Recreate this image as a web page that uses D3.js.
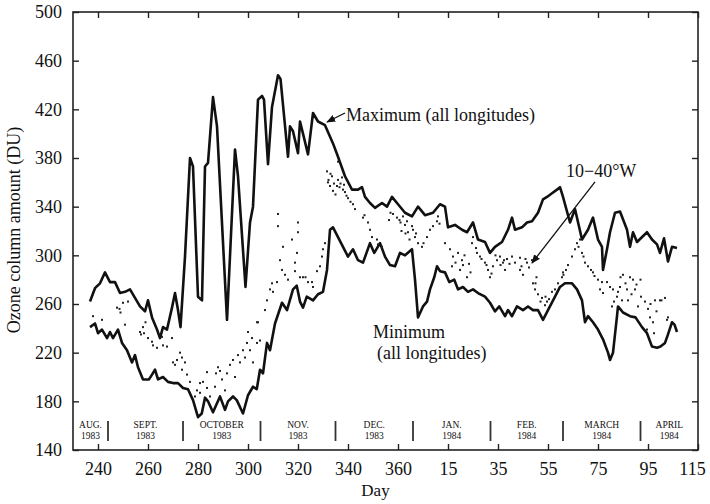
<!DOCTYPE html>
<html>
<head>
<meta charset="utf-8">
<script src="https://cdn.jsdelivr.net/npm/d3@7"></script>
<style>
  body { margin: 0; background: #fff; }
  text { font-family: "Liberation Serif", "DejaVu Serif", serif; fill: #111; }
</style>
</head>
<body>
<div id="chart"></div>
<script>
// days run on from 1983: day 366 = 1 Jan 1984
var maxLine = [[236.8,262],[238.8,273],[240.8,277],[242.8,286],[244.8,278],[246.8,278],[248.8,269],[250.8,270],[252.8,272],[254.8,265],[256.8,258],[258.8,254],[260,263],[261.6,249],[263.6,239],[264.8,232],[266,241],[267.6,239],[269.6,257],[270.8,269],[272,255],[273,241],[274.8,299],[276.8,380],[278,373],[280,266],[281.6,263],[282.8,373],[284,376],[286,430],[287.6,406],[291.6,247],[294.8,387],[296,365],[299,274],[300.8,327],[302,340],[304,428],[305.6,431],[306.4,428],[308,375],[309.6,422],[312,448],[313,445],[316,381],[316.8,406],[318,402],[320,384],[320.8,410],[322,400],[324,383],[326,417],[328,410],[330.8,407],[334,392],[336,381],[338.8,365],[341.6,354],[344,354],[345.6,356],[346.8,348],[348.8,343],[350.8,339],[353.6,343],[355.6,340],[357.6,348],[360,342],[362.8,335],[365.6,332],[368,340],[370.8,333],[374,335],[376.8,342],[378.8,340],[380,323],[382.8,325],[385.6,321],[387.6,319],[390,327],[392,313],[394.8,311],[396.8,302],[398.8,307],[401.6,311],[404,321],[405.6,331],[406.8,321],[409.6,323],[411.6,327],[413.6,328],[416,335],[418,346],[419.6,348],[421.6,351],[423.6,354],[424.8,356],[426,348],[428.8,327],[430.8,338],[433.6,313],[436,321],[438,331],[440,313],[441.6,307],[442,288],[443.6,305],[444.8,319],[446.8,335],[448.8,336],[451.6,321],[452.8,307],[454,319],[455.6,311],[459.6,319],[461.6,313],[463.6,309],[464.8,302],[466.4,314],[468,295],[469.6,307],[471.6,306]];

var minLine = [[236.8,241],[238.8,244],[240,236],[241.6,239],[243.6,232],[244.8,237],[246,232],[248,239],[249.6,228],[251.6,222],[253.6,212],[254.8,218],[256,208],[258,198],[260.4,198],[261.6,202],[262.8,206],[264,198],[266,200],[268,196],[270,195],[272,195],[274,191],[276,190],[278,181],[280,167],[281.5,170],[282.8,183],[284,180],[286,171],[288.8,184],[290.8,173],[292,180],[294,184],[295.5,181],[298,170],[300,185],[302,192],[303.5,190],[304.8,206],[306,203],[307.6,228],[308.8,222],[310.8,244],[313.6,261],[315.6,255],[318,272],[319.5,275],[320.8,262],[322,257],[323.5,266],[326,263],[328,268],[330,270],[331.6,288],[332.8,321],[334,323],[336,315],[338,307],[340,299],[342,305],[344,296],[346,294],[347.4,302],[348.8,310],[350.5,302],[352.8,310],[354.8,299],[356.8,292],[358.8,291],[360.8,302],[362.8,300],[365.6,305],[366.8,280],[368,249],[370,258],[371.6,262],[372.8,272],[374.5,282],[375.6,291],[376.8,287],[378.8,286],[380.5,278],[382.5,280],[384,272],[386,274],[388,270],[390,272],[392,269],[394.8,266],[396.8,261],[398.8,254],[400.5,258],[402.8,250],[404,255],[405.6,250],[407.6,258],[410,255],[412,258],[414,255],[416,255],[418,247],[420,255],[422.8,266],[424.8,274],[426.8,277],[429.6,277],[431.6,272],[433.6,263],[434.8,245],[436,250],[438,245],[440,239],[442,231],[444,220],[444.8,214],[446,220],[447.6,250],[448,258],[450,253],[452.8,250],[455,249],[457.6,241],[459.6,236],[461.6,225],[463.6,224],[465,225],[466.8,228],[468,235],[469.6,245],[470.6,243],[471.6,237]];

var westDots = [[238,250],[241.6,247],[247.6,257],[248.6,256],[249,253],[250,261],[252,262],[250.8,243],[256.8,237],[257.2,235],[258,241],[258.4,236],[259,245],[260,232],[261.6,229],[262,226],[263.6,224],[265.6,233],[266,226],[267.6,225],[269.6,232],[270,212],[270.8,210],[271.6,214],[272.8,220],[273.6,216],[273.6,206],[274.8,212],[275.6,202],[276.8,196],[278.8,184],[279.6,189],[280.8,195],[282,196],[280.8,187],[283.6,204],[283.6,191],[284.8,184],[286.8,192],[288,208],[288.8,205],[287.2,203],[289.6,198],[290.8,189],[291.6,203],[292.8,210],[294,214],[294.8,200],[296,218],[296.8,212],[298,222],[298.8,216],[299.6,228],[300,237],[300.8,222],[301.6,232],[302,212],[303.6,245],[303.6,228],[304.8,230],[304,245],[306.8,255],[307.6,263],[308.8,272],[309.6,277],[310,270],[311.6,278],[312,334],[312,324],[312.8,296],[313.6,288],[314,307],[314.8,284],[316,280],[317.6,313],[318.8,287],[318.8,294],[320,327],[320,319],[319.6,302],[320.8,282],[322,282],[323,282],[324,278],[325.6,278],[326,274],[327.6,287],[328.8,291],[329.6,299],[330,305],[330.8,310],[331.6,369],[332.2,362],[332.8,357],[333.6,365],[334,353],[335.6,357],[336,362],[337.6,364],[338,354],[338.8,352],[336,377],[342,342],[342.8,338],[346,331],[346.6,333],[348,327],[348.8,321],[349.6,315],[351.6,313],[352,309],[353.6,307],[358,334],[359.6,331],[360.6,329],[362,332],[362.8,325],[363.6,328],[364,319],[365.6,324],[366.8,315],[368,310],[369.6,307],[370.2,310],[371.6,315],[372.8,321],[374,324],[375.6,328],[376,332],[376.6,326],[378.8,310],[380.8,305],[382,299],[381.6,291],[383,294],[384,302],[384.8,288],[386,292],[387.6,282],[389.6,310],[390,315],[391.2,306],[392.8,299],[393.4,297],[394.8,294],[396,288],[396.8,282],[398,291],[399.6,296],[400.8,299],[402,294],[402.4,296],[402.8,288],[405.6,299],[406.8,294],[408.8,298],[408.8,288],[410,284],[411.6,294],[413.6,296],[414,277],[414.8,272],[415.4,282],[417.6,265],[418.8,259],[419.6,262],[421.6,270],[422.8,272],[424,277],[425.6,282],[426.2,284],[426,286],[427.2,288],[428,292],[429.6,299],[430.8,305],[431.6,310],[432.2,307],[432.8,313],[433.6,302],[434.2,299],[434.8,294],[436,291],[437.2,288],[438,286],[438.6,283],[440,280],[440.8,272],[441.6,278],[442,269],[443.6,278],[444.8,274],[445.6,258],[446,272],[447.6,266],[448.8,274],[449.6,263],[450,284],[451.6,272],[452,263],[452.8,282],[454,280],[454.8,272],[456,258],[457.2,266],[458.8,262],[459.6,239],[460.8,249],[462,245],[462.4,236],[462.8,263],[464.8,263],[465.4,263],[466.8,265],[467.6,247],[468,249],
  [332,360],[333,367],[334.4,359],[335,350],[336.6,356],[337,359],[338.4,358],[339.4,349],[340,347],[341,344],
  [356.4,329],[357,335],[361,327],[361.4,320],[363,318],[364.6,313],[366,321],[367.2,318],
  [385.6,296],[386.6,300],[388.4,293],[389,286],[391.6,302],[395.4,292],[397.4,285],[399,300],[401,292],[403.6,297],[404.6,293],
  [409.4,291],[411,297],[412.4,290],[415,277],[416,268],[417,262],[419,266],[420.4,264],
  [446.4,262],[448,270],[449,282],[451,277],[453.4,268],[455.4,276],[457,280],[460,256],[461,260],[463.4,254]];

var xTicks = [240,260,280,300,320,340,360,380,400,420,440,460,480];
var xTickLabels = ["240","260","280","300","320","340","360","15","35","55","75","95","115"];
var yTicks = [140,180,220,260,300,340,380,420,460,500];

var monthNames = ["AUG.","SEPT.","OCTOBER","NOV.","DEC.","JAN.","FEB.","MARCH","APRIL"];
var monthYears = ["1983","1983","1983","1983","1983","1984","1984","1984","1984"];
var monthBreaks = [244,274,305,335,366,397,426,457];

var W = 710, H = 504;
var pLeft = 73, pRight = 698, pTop = 12, pBottom = 450;

var svg = d3.select("#chart").append("svg")
    .attr("width", W)
    .attr("height", H);

var x = d3.scaleLinear().domain([230, 480]).range([pLeft, pRight]);
var y = d3.scaleLinear().domain([140, 500]).range([pBottom, pTop]);

// frame
svg.append("rect")
    .attr("x", pLeft).attr("y", pTop)
    .attr("width", pRight - pLeft).attr("height", pBottom - pTop)
    .attr("fill", "none").attr("stroke", "#222").attr("stroke-width", 1.6);

// axes, ticks pointing in
var xAxis = d3.axisBottom(x).tickValues(xTicks)
    .tickFormat(function(d, i){ return xTickLabels[i]; })
    .tickSizeInner(-6).tickSizeOuter(0).tickPadding(12);
var gx = svg.append("g").attr("transform", "translate(0," + pBottom + ")").call(xAxis);

var yAxis = d3.axisLeft(y).tickValues(yTicks).tickSizeInner(-6).tickSizeOuter(0).tickPadding(11);
var gy = svg.append("g").attr("transform", "translate(" + pLeft + ",0)").call(yAxis);

svg.append("g").attr("transform", "translate(0," + pTop + ")")
    .call(d3.axisTop(x).tickValues(xTicks).tickFormat("").tickSizeInner(-6).tickSizeOuter(0));
svg.append("g").attr("transform", "translate(" + pRight + ",0)")
    .call(d3.axisRight(y).tickValues(yTicks).tickFormat("").tickSizeInner(-6).tickSizeOuter(0));

svg.selectAll(".domain").remove();
svg.selectAll(".tick line").attr("stroke", "#222").attr("stroke-width", 1.4);
gx.selectAll("text").style("font-size", "18px").attr("fill", "#111");
gy.selectAll("text").style("font-size", "18px").attr("fill", "#111");
// last label sits at the frame edge; pull it in a bit
gx.selectAll(".tick text").filter(function(d){ return d === 480; }).attr("dx", "-6");

// axis titles
svg.append("text")
    .attr("x", x(351)).attr("y", 496)
    .attr("text-anchor", "middle")
    .style("font-size", "17px")
    .text("Day");

svg.append("text")
    .attr("transform", "translate(20," + 230 + ") rotate(-90)")
    .attr("text-anchor", "middle")
    .style("font-size", "18px")
    .text("Ozone column amount (DU)");

// month band
var edges = [230].concat(monthBreaks).concat([480]);
svg.selectAll(".mname").data(monthNames).enter().append("text")
    .attr("x", function(d, i){ return x((edges[i] + edges[i + 1]) / 2); })
    .attr("y", 428)
    .attr("text-anchor", "middle")
    .style("font-size", "9.5px")
    .text(function(d){ return d; });
svg.selectAll(".myear").data(monthYears).enter().append("text")
    .attr("x", function(d, i){ return x((edges[i] + edges[i + 1]) / 2); })
    .attr("y", 439)
    .attr("text-anchor", "middle")
    .style("font-size", "9.5px")
    .text(function(d){ return d; });
svg.selectAll(".mbreak").data(monthBreaks).enter().append("line")
    .attr("x1", function(d){ return x(d); }).attr("x2", function(d){ return x(d); })
    .attr("y1", 421).attr("y2", 441)
    .attr("stroke", "#333").attr("stroke-width", 1.8);

// series
var line = d3.line()
    .x(function(d){ return x(d[0]); })
    .y(function(d){ return y(d[1]); });

svg.append("path").datum(maxLine)
    .attr("d", line)
    .attr("fill", "none").attr("stroke", "#111")
    .attr("stroke-width", 2.6).attr("stroke-linejoin", "round");

svg.append("path").datum(minLine)
    .attr("d", line)
    .attr("fill", "none").attr("stroke", "#111")
    .attr("stroke-width", 2.6).attr("stroke-linejoin", "round");

svg.selectAll(".dot").data(westDots).enter().append("rect")
    .attr("x", function(d){ return x(d[0]) - 1; })
    .attr("y", function(d){ return y(d[1]) - 1; })
    .attr("width", 2).attr("height", 2)
    .attr("fill", "#222");

// annotations
svg.append("defs").append("marker")
    .attr("id", "head")
    .attr("viewBox", "0 0 10 10")
    .attr("refX", 9).attr("refY", 5)
    .attr("markerWidth", 7).attr("markerHeight", 7)
    .attr("orient", "auto")
    .append("path").attr("d", "M0,1L10,5L0,9Z").attr("fill", "#111");

svg.append("line")
    .attr("x1", x(338.8)).attr("y1", y(417))
    .attr("x2", x(331.6)).attr("y2", y(409.6))
    .attr("stroke", "#111").attr("stroke-width", 1.3)
    .attr("marker-end", "url(#head)");

svg.append("text")
    .attr("x", 346).attr("y", 121)
    .style("font-size", "18px")
    .text("Maximum (all longitudes)");

svg.append("text")
    .attr("x", 566).attr("y", 177)
    .style("font-size", "18px")
    .text("10\u221240\u00b0W");

svg.append("line")
    .attr("x1", x(438.8)).attr("y1", y(360.3))
    .attr("x2", x(413.6)).attr("y2", y(293.7))
    .attr("stroke", "#111").attr("stroke-width", 1.3)
    .attr("marker-end", "url(#head)");

svg.append("text")
    .attr("x", 373).attr("y", 338)
    .style("font-size", "18px")
    .text("Minimum");
svg.append("text")
    .attr("x", 377).attr("y", 359)
    .style("font-size", "18px")
    .text("(all longitudes)");
</script>
</body>
</html>
